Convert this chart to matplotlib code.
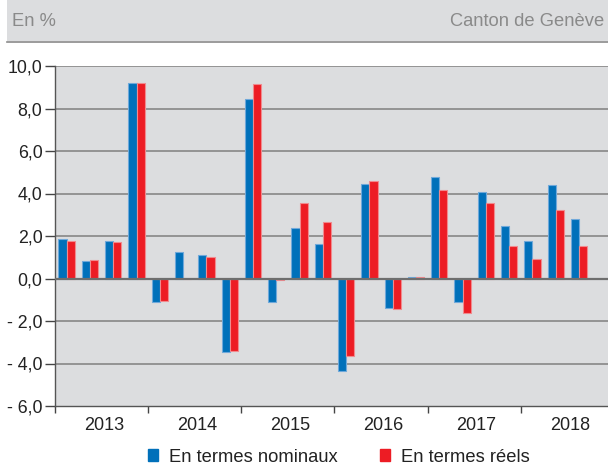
import matplotlib
matplotlib.use("Agg")
import matplotlib.pyplot as plt
import numpy as np
from matplotlib.patches import Rectangle
from matplotlib.lines import Line2D

plt.rcParams['font.family'] = ['Liberation Sans', 'DejaVu Sans']

years = ["2013", "2014", "2015", "2016", "2017", "2018"]
nominal = [1.85, 0.83, 1.78, 9.20, -1.10, 1.27, 1.10, -3.48, 8.45, -1.10, 2.38, 1.62,
           -4.35, 4.45, -1.37, 0.08, 4.77, -1.12, 4.07, 2.45, 1.77, 4.42, 2.80]
real = [1.77, 0.85, 1.70, 9.20, -1.08, 0.0, 1.02, -3.40, 9.13, -0.08, 3.57, 2.64,
        -3.66, 4.61, -1.44, 0.08, 4.18, -1.63, 3.57, 1.52, 0.92, 3.24, 1.52]
series_labels = ["En termes nominaux", "En termes réels"]

BLUE = "#0070BA"
RED = "#ED1C24"
BG = "#DCDDDF"
GRID = "#8E8E8E"
TXT = "#222222"

W, H = 608, 468
fig = plt.figure(figsize=(W / 100, H / 100), dpi=100)

# header band
fig.add_artist(Rectangle((7 / W, 1 - 41 / H), 1 - 7 / W, 41 / H, transform=fig.transFigure,
                         facecolor=BG, edgecolor="none", zorder=0))
fig.add_artist(Line2D([7 / W, 1], [1 - 41.5 / H, 1 - 41.5 / H], transform=fig.transFigure,
                      color="#8A8A8A", lw=1.2))
fig.text(12 / W, 1 - 22 / H, "En %", fontsize=13.2, color="#8A8A8A", va="center", ha="left")
fig.text(450 / W, 1 - 22 / H, "Canton de Genève", fontsize=13.2, color="#8A8A8A",
         va="center", ha="left")

left, right, top, bottom = 55, 614, 66, 406
ax = fig.add_axes([left / W, 1 - bottom / H, (right - left) / W, (bottom - top) / H])
ax.set_facecolor(BG)

n = len(nominal)
x = np.arange(n)
bw = 0.35
ax.bar(x - bw / 2, nominal, bw, color=BLUE, edgecolor="#6FA8DA", linewidth=0.8, zorder=3,
       label=series_labels[0])
ax.bar(x + bw / 2, real, bw, color=RED, edgecolor="#F08A8E", linewidth=0.8, zorder=3,
       label=series_labels[1])

ax.set_xlim(-0.5, 23.5)
ax.set_ylim(-6, 10)

for v in np.arange(-4, 11, 2):
    ax.axhline(v, color=GRID, lw=1.3, zorder=1)
ax.axhline(0, color="#6E6E6E", lw=1.6, zorder=4)

yt = np.arange(-6, 11, 2)
ax.set_yticks(yt)
ax.set_yticklabels([("- " if v < 0 else "") + f"{abs(v):.1f}".replace(".", ",") for v in yt],
                   fontsize=12.8, color=TXT)

bounds = [-0.5 + 4 * i for i in range(len(years))]
ax.set_xticks(bounds)
ax.set_xticklabels([])
ax.set_xticks([1.6 + 4 * i for i in range(len(years))], minor=True)
ax.set_xticklabels(years, minor=True, fontsize=13, color=TXT)
ax.tick_params(axis="x", which="minor", length=0, pad=8)
ax.tick_params(axis="x", which="major", length=5, color="#444444", width=1)
ax.tick_params(axis="y", length=7, color="#444444", width=1, pad=2)

for s in ["top", "right"]:
    ax.spines[s].set_visible(False)
ax.spines["left"].set_color("#555555")
ax.spines["bottom"].set_color("#555555")
ax.spines["left"].set_linewidth(1)
ax.spines["bottom"].set_linewidth(1)

handles = [Rectangle((0, 0), 1, 1, color=BLUE), Rectangle((0, 0), 1, 1, color=RED)]
fig.legend(handles, series_labels, loc="center", bbox_to_anchor=(339 / W, 1 - 457 / H),
           ncol=2, frameon=False, fontsize=13.2, handlelength=0.55, handleheight=0.55,
           handletextpad=0.6, columnspacing=2.3, labelcolor=TXT,
           borderpad=0.1, borderaxespad=0)

fig.savefig("out.png", dpi=100)
